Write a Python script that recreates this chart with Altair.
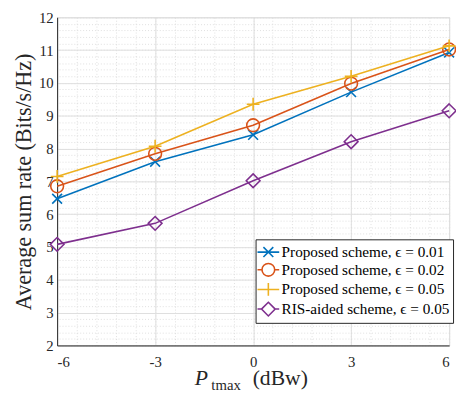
import altair as alt
import pandas as pd

# ---- data ----
x_vals = [-6, -3, 0, 3, 6]
series_names = [
    "Proposed scheme, ϵ = 0.01",
    "Proposed scheme, ϵ = 0.02",
    "Proposed scheme, ϵ = 0.05",
    "RIS-aided scheme, ϵ = 0.05",
]
y_p001 = [6.47, 7.60, 8.42, 9.72, 10.93]
y_p002 = [6.85, 7.84, 8.71, 9.98, 11.02]
y_p005 = [7.15, 8.07, 9.35, 10.20, 11.13]
y_ris = [5.08, 5.72, 7.02, 8.21, 9.15]
all_y = [y_p001, y_p002, y_p005, y_ris]

colors = ["#0072BD", "#D95319", "#EDB120", "#7E2F8E"]
x_ticks = [-6, -3, 0, 3, 6]
y_ticks = list(range(2, 13))
x_minor = [round(-6 + 0.6 * i, 2) for i in range(21)]
y_minor = [round(2 + 0.2 * i, 2) for i in range(51)]
y_title = "Average sum rate (Bits/s/Hz)"
x_title_parts = ["P", "tmax", "(dBw)"]

# marker-only paths
marker_paths = [
    "M-1,-1L1,1M-1,1L1,-1",
    "M1,0A1,1 0 1,1 -1,0A1,1 0 1,1 1,0Z",
    "M-1,0L1,0M0,-1L0,1",
    "M0,-1L1,0L0,1L-1,0Z",
]
marker_sizes = [100, 169, 169, 196]
# legend paths: line + marker (unit = 8.5 px)
legend_paths = [
    "M-1.3,0L1.3,0M-0.59,-0.59L0.59,0.59M-0.59,0.59L0.59,-0.59",
    "M-1.3,0L-0.76,0M0.76,0L1.3,0M0.76,0A0.76,0.76 0 1,1 -0.76,0A0.76,0.76 0 1,1 0.76,0Z",
    "M-1.3,0L1.3,0M0,-0.76L0,0.76",
    "M-1.3,0L-0.82,0M0.82,0L1.3,0M0,-0.82L0.82,0L0,0.82L-0.82,0Z",
]

rows = []
for name, ys in zip(series_names, all_y):
    for xv, yv in zip(x_vals, ys):
        rows.append({"x": xv, "y": yv, "series": name})
df = pd.DataFrame(rows)

FONT = "Liberation Serif, Times New Roman, DejaVu Serif, serif"
TXT = "#262626"
W, H = 399, 334

xscale = alt.Scale(domain=[-6, 6], nice=False, zero=False)
yscale = alt.Scale(domain=[2, 12], nice=False, zero=False)

# minor grid layer
minor = alt.Chart(df).mark_point(opacity=0).encode(
    x=alt.X("x:Q", scale=xscale, axis=alt.Axis(
        values=x_minor, grid=True, gridDash=[1, 2], gridColor="#d8d8d8",
        gridWidth=0.8, labels=False, ticks=False, domain=False, title=None,
        orient="top")),
    y=alt.Y("y:Q", scale=yscale, axis=alt.Axis(
        values=y_minor, grid=True, gridDash=[1, 2], gridColor="#d8d8d8",
        gridWidth=0.8, labels=False, ticks=False, domain=False, title=None,
        orient="right")),
)

# major axis layer
major = alt.Chart(df).mark_point(opacity=0).encode(
    x=alt.X("x:Q", scale=xscale, axis=alt.Axis(
        values=x_ticks, grid=True, gridColor="#dedede", gridWidth=1,
        labelFont=FONT, labelFontSize=15, labelColor=TXT, labelPadding=9,
        labelExpr="datum.value",
        tickSize=0, domainColor=TXT, title=None, orient="bottom")),
    y=alt.Y("y:Q", scale=yscale, axis=alt.Axis(
        values=y_ticks, grid=True, gridColor="#dedede", gridWidth=1,
        labelFont=FONT, labelFontSize=15, labelColor=TXT, labelPadding=4,
        labelExpr="datum.value",
        tickSize=0, domainColor=TXT, title=y_title, titleFont=FONT,
        titleFontSize=22.5, titleFontWeight="normal", titleColor=TXT,
        titlePadding=3, orient="left")),
)

layers = [minor, major]

for name, c, mp, ms in zip(series_names, colors, marker_paths, marker_sizes):
    sub = alt.Chart(df).transform_filter(alt.datum.series == name)
    layers.append(sub.mark_line(color=c, strokeWidth=1.6).encode(
        x=alt.X("x:Q", scale=xscale, axis=None),
        y=alt.Y("y:Q", scale=yscale, axis=None)))
    layers.append(sub.mark_point(shape=mp, size=ms, color=c, filled=False,
                                 strokeWidth=1.6, opacity=1).encode(
        x=alt.X("x:Q", scale=xscale, axis=None),
        y=alt.Y("y:Q", scale=yscale, axis=None)))

leg = dict(title=None, orient="none", legendX=202, legendY=226,
           symbolOpacity=1, symbolSize=289, symbolStrokeWidth=1.6,
           symbolFillColor="transparent",
           labelFont=FONT, labelFontSize=15.5, labelColor="black",
           labelLimit=300, labelOffset=4, rowPadding=-3,
           padding=3.5, strokeColor=TXT, fillColor="white", cornerRadius=0)

legend_layer = alt.Chart(df).mark_point(opacity=0, filled=False, size=289).encode(
    x=alt.X("x:Q", scale=xscale, axis=None),
    y=alt.Y("y:Q", scale=yscale, axis=None),
    color=alt.Color("series:N", scale=alt.Scale(domain=series_names, range=colors),
                    legend=alt.Legend(**leg)),
    shape=alt.Shape("series:N", scale=alt.Scale(domain=series_names, range=legend_paths),
                    legend=alt.Legend(**leg)),
)
layers.append(legend_layer)

# x-axis title built from text pieces (italic P, subscript tmax)
title_df = pd.DataFrame({"t": x_title_parts})
t_p = alt.Chart(title_df).transform_filter(alt.datum.t == x_title_parts[0]).mark_text(
    font=FONT, fontSize=22, fontStyle="italic", align="left", baseline="alphabetic",
    color=TXT).encode(text="t:N", x=alt.value(140), y=alt.value(374))
t_sub = alt.Chart(title_df).transform_filter(alt.datum.t == x_title_parts[1]).mark_text(
    font=FONT, fontSize=15, align="left", baseline="alphabetic",
    color=TXT).encode(text="t:N", x=alt.value(157), y=alt.value(379))
t_unit = alt.Chart(title_df).transform_filter(alt.datum.t == x_title_parts[2]).mark_text(
    font=FONT, fontSize=22, align="left", baseline="alphabetic",
    color=TXT).encode(text="t:N", x=alt.value(199), y=alt.value(374))
layers += [t_p, t_sub, t_unit]

chart = alt.layer(*layers).resolve_axis(x="independent", y="independent").properties(
    width=W, height=H,
    autosize=alt.AutoSizeParams(type="none"),
    padding={"left": 50, "top": 6, "right": 7, "bottom": 48},
).configure_view(stroke=TXT, strokeWidth=1).configure(background="white")

chart.save("out.html", embed_options={"renderer": "svg", "actions": False})
